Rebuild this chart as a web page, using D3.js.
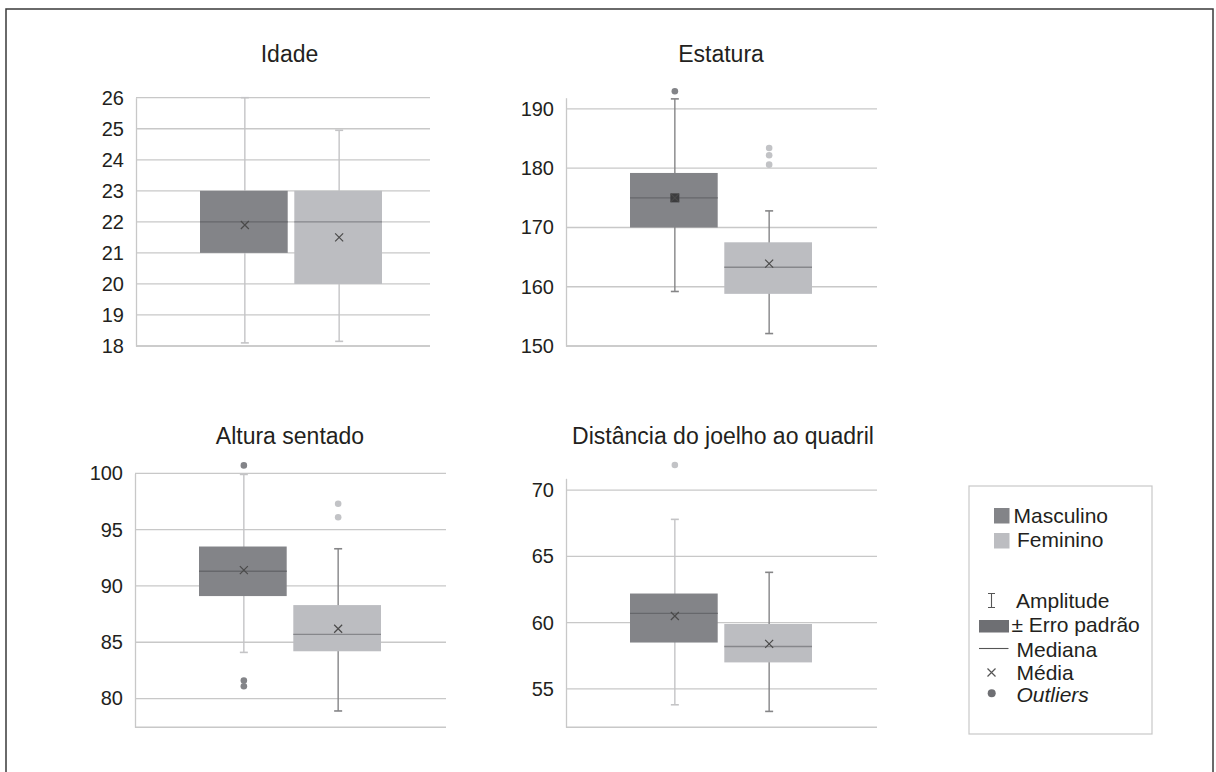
<!DOCTYPE html>
<html>
<head>
<meta charset="utf-8">
<script src="https://cdn.jsdelivr.net/npm/d3@7"></script>
<style>
  html, body { margin: 0; padding: 0; background: #fff; }
  svg { display: block; font-family: "Liberation Sans", Arial, sans-serif; }
</style>
</head>
<body>
<svg id="chart" width="1216" height="772"></svg>
<script>
// Panel titles and the two groups compared in each panel
const panelTitles = ["Idade", "Estatura", "Altura sentado", "Distância do joelho ao quadril"];
const seriesNames = ["Masculino", "Feminino"];

// Box statistics per panel (Idade, Estatura, Altura sentado, Distância)
const mascMin    = [18.1, 159.2, 84.1, 53.8];
const mascQ1     = [21.0, 170.0, 89.1, 58.5];
const mascMedian = [22.0, 175.0, 91.3, 60.7];
const mascQ3     = [23.0, 179.2, 93.5, 62.2];
const mascMax    = [26.0, 191.7, 99.9, 67.8];
const mascMean   = [21.9, 175.0, 91.4, 60.5];
const mascOutliers = [[], [193.0], [100.7, 81.6, 81.1], [71.9]];

const femMin    = [18.15, 152.1, 78.9, 53.3];
const femQ1     = [20.0, 158.8, 84.2, 57.0];
const femMedian = [22.0, 163.3, 85.7, 58.2];
const femQ3     = [23.0, 167.5, 88.3, 59.9];
const femMax    = [24.95, 172.8, 93.3, 63.8];
const femMean   = [21.5, 163.9, 86.2, 58.4];
const femOutliers = [[], [183.4, 182.2, 180.6], [97.3, 96.1], []];

// Value axis ticks and extents
const yTicks = [
  [18, 19, 20, 21, 22, 23, 24, 25, 26],
  [150, 160, 170, 180, 190],
  [80, 85, 90, 95, 100],
  [55, 60, 65, 70]
];
const yDomains = [[18, 26], [150, 191.9], [77.45, 100], [52.1, 70.9]];

// ---- styling / layout ----
const C = {
  text: "#231f20",
  grid: "#c8c8c8",
  boxDark: "#838488",
  boxLight: "#bcbdc1",
  medDark: "#66676b",
  medLight: "#86878b",
  whiskLight: "#c4c4c6",
  whiskDark: "#858587",
  outDark: "#838488",
  outLight: "#c2c3c6",
  mean: "#4a4a4a"
};

const layout = [
  { left: 136, right: 430, top: 97.7, bottom: 346, titleX: 289.5, titleY: 62 },
  { left: 566, right: 877, top: 97.7, bottom: 346, titleX: 721, titleY: 62 },
  { left: 135, right: 446, top: 473.3, bottom: 727.3, titleX: 290, titleY: 443.5 },
  { left: 566, right: 877, top: 478.3, bottom: 727.3, titleX: 723, titleY: 443.5 }
];
const whiskerColors = [
  [C.whiskLight, C.whiskLight],
  [C.whiskDark, C.whiskDark],
  [C.whiskLight, C.whiskDark],
  [C.whiskLight, C.whiskDark]
];
const outlierColors = [
  [C.outDark, C.outLight],
  [C.outDark, C.outLight],
  [C.outDark, C.outLight],
  [C.outLight, C.outLight]
];

const svg = d3.select("#chart");

// outer frame
svg.append("rect")
  .attr("x", 6).attr("y", 9).attr("width", 1207).attr("height", 800)
  .attr("fill", "none").attr("stroke", "#3a3a3a").attr("stroke-width", 1.5);

const stats = [
  { min: mascMin, q1: mascQ1, med: mascMedian, q3: mascQ3, max: mascMax, mean: mascMean, out: mascOutliers,
    fill: C.boxDark, medColor: C.medDark },
  { min: femMin, q1: femQ1, med: femMedian, q3: femQ3, max: femMax, mean: femMean, out: femOutliers,
    fill: C.boxLight, medColor: C.medLight }
];

panelTitles.forEach((title, p) => {
  const L = layout[p];
  const g = svg.append("g");

  const y = d3.scaleLinear().domain(yDomains[p]).range([L.bottom, L.top]);
  const x = d3.scaleBand().domain(seriesNames)
    .range([L.left + 64, L.left + 246]).paddingInner(0.07);

  // horizontal gridlines
  g.selectAll("line.grid").data(yTicks[p]).join("line")
    .attr("x1", L.left).attr("x2", L.right)
    .attr("y1", d => y(d)).attr("y2", d => y(d))
    .attr("stroke", C.grid).attr("stroke-width", 1.3);

  // baseline and left axis line
  g.append("line").attr("x1", L.left).attr("x2", L.right)
    .attr("y1", L.bottom).attr("y2", L.bottom)
    .attr("stroke", C.grid).attr("stroke-width", 1.6);

  const axis = d3.axisLeft(y).tickValues(yTicks[p]).tickSize(0).tickPadding(12).tickFormat(d3.format("d"));
  const ax = g.append("g").attr("transform", `translate(${L.left},0)`).call(axis);
  ax.select(".domain").attr("stroke", C.grid).attr("stroke-width", 1.3);
  ax.selectAll("text").attr("fill", C.text).style("font-size", "20px");

  // title
  g.append("text").attr("x", L.titleX).attr("y", L.titleY)
    .attr("text-anchor", "middle").attr("fill", C.text)
    .style("font-size", "23px").text(title);

  seriesNames.forEach((name, s) => {
    const st = stats[s];
    const x0 = x(name), bw = x.bandwidth(), cx = x0 + bw / 2 + 1;
    const wc = whiskerColors[p][s];

    // whiskers (amplitude)
    g.append("line").attr("x1", cx).attr("x2", cx)
      .attr("y1", y(st.max[p])).attr("y2", y(st.min[p]))
      .attr("stroke", wc).attr("stroke-width", 1.4);
    [st.max[p], st.min[p]].forEach(v => {
      g.append("line").attr("x1", cx - 4).attr("x2", cx + 4)
        .attr("y1", y(v)).attr("y2", y(v))
        .attr("stroke", wc).attr("stroke-width", 1.6);
    });

    // box
    g.append("rect").attr("x", x0).attr("width", bw)
      .attr("y", y(st.q3[p])).attr("height", y(st.q1[p]) - y(st.q3[p]))
      .attr("fill", st.fill);

    // median
    g.append("line").attr("x1", x0).attr("x2", x0 + bw)
      .attr("y1", y(st.med[p])).attr("y2", y(st.med[p]))
      .attr("stroke", st.medColor).attr("stroke-width", 1.4);

    // mean marker
    const my = y(st.mean[p]);
    if (p === 1 && s === 0) {
      g.append("rect").attr("x", cx - 4.5).attr("y", my - 4.5)
        .attr("width", 9).attr("height", 9).attr("fill", "#3c3c3e");
    }
    g.append("path")
      .attr("d", `M${cx - 4},${my - 4}L${cx + 4},${my + 4}M${cx - 4},${my + 4}L${cx + 4},${my - 4}`)
      .attr("stroke", C.mean).attr("stroke-width", 1.2).attr("fill", "none");

    // outliers
    g.selectAll(null).data(st.out[p]).join("circle")
      .attr("cx", cx).attr("cy", d => y(d)).attr("r", 3.3)
      .attr("fill", outlierColors[p][s]);
  });
});

// legend
const lg = svg.append("g");
lg.append("rect").attr("x", 969).attr("y", 486).attr("width", 183).attr("height", 248)
  .attr("fill", "#fff").attr("stroke", "#c8c8c8").attr("stroke-width", 1.2);

const legFont = "21px";
lg.append("rect").attr("x", 994).attr("y", 508).attr("width", 15.5).attr("height", 15.5).attr("fill", C.boxDark);
lg.append("text").attr("x", 1013.5).attr("y", 523).attr("fill", C.text).style("font-size", legFont).text(seriesNames[0]);
lg.append("rect").attr("x", 994).attr("y", 533).attr("width", 15.5).attr("height", 15.5).attr("fill", C.boxLight);
lg.append("text").attr("x", 1017).attr("y", 547).attr("fill", C.text).style("font-size", legFont).text(seriesNames[1]);

// Amplitude symbol
lg.append("path").attr("d", "M988,593.5L995,593.5M991.5,593.5L991.5,607.5M988,607.5L995,607.5")
  .attr("stroke", "#555").attr("stroke-width", 1.1).attr("fill", "none");
lg.append("text").attr("x", 1016).attr("y", 608).attr("fill", C.text).style("font-size", legFont).text("Amplitude");

// Erro padrão symbol
lg.append("rect").attr("x", 979).attr("y", 620).attr("width", 30).attr("height", 12.5).attr("fill", "#6e6f73");
lg.append("text").attr("x", 1011.5).attr("y", 632).attr("fill", C.text).style("font-size", legFont).text("± Erro padrão");

// Mediana symbol
lg.append("line").attr("x1", 979).attr("x2", 1008.5).attr("y1", 648.5).attr("y2", 648.5)
  .attr("stroke", "#555").attr("stroke-width", 1.1);
lg.append("text").attr("x", 1016.5).attr("y", 656.5).attr("fill", C.text).style("font-size", legFont).text("Mediana");

// Média symbol
lg.append("path").attr("d", "M987.5,668.5L995.5,676.5M987.5,676.5L995.5,668.5")
  .attr("stroke", "#555").attr("stroke-width", 1.2).attr("fill", "none");
lg.append("text").attr("x", 1016.5).attr("y", 679.5).attr("fill", C.text).style("font-size", legFont).text("Média");

// Outliers symbol
lg.append("circle").attr("cx", 991.7).attr("cy", 693.3).attr("r", 4).attr("fill", "#6e6f73");
lg.append("text").attr("x", 1016.5).attr("y", 702).attr("fill", C.text).style("font-size", legFont)
  .style("font-style", "italic").text("Outliers");
</script>
</body>
</html>
